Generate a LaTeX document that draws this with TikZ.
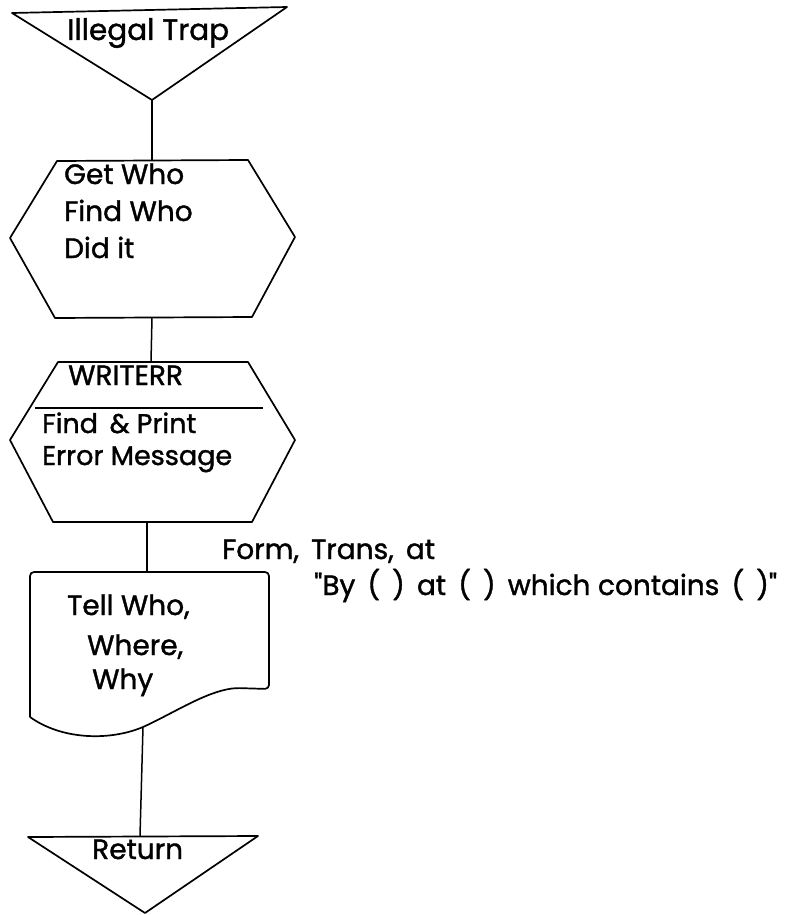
\documentclass[tikz,border=0pt]{standalone}
\usepackage{fontspec}
\setmainfont{Poppins}[FakeBold=1.3]
\begin{document}
\begin{tikzpicture}[x=1pt,y=-1pt,
  outline/.style={line width=1.7pt, line join=round},
  link/.style={line width=1.5pt},
  lbl/.style={inner sep=0pt, anchor=base west, align=left,
              font=\fontsize{28}{37}\selectfont}]
\useasboundingbox (0,0) rectangle (805,915);

% --- entry terminal: Illegal Trap
\coordinate (tA) at (12,13);
\coordinate (tB) at (287,7);
\coordinate (tApex) at (152,100);
\draw[outline] (tA) -- (tB) -- (tApex) -- cycle;
\node[lbl, font=\fontsize{29.5}{37}\selectfont] (trapText) at (67,40) {Illegal Trap};

% --- hexagon: Get Who
\coordinate (h1tl) at (57,161);
\coordinate (h1tr) at (248,160);
\coordinate (h1r)  at (295,237);
\coordinate (h1br) at (252,317);
\coordinate (h1bl) at (55,318);
\coordinate (h1l)  at (10,238);
\coordinate (h1top) at (152,160.5);
\coordinate (h1bot) at (152,317.5);
\draw[outline] (h1tl) -- (h1tr) -- (h1r) -- (h1br) -- (h1bl) -- (h1l) -- cycle;
% multi-line labels are anchored at the baseline of their last line
\node[lbl] (getText) at (64,258) {Get Who\\Find Who\\Did it};

% --- hexagon: WRITERR
\coordinate (h2tl) at (58,362);
\coordinate (h2tr) at (248,362);
\coordinate (h2r)  at (295,440);
\coordinate (h2br) at (252,522);
\coordinate (h2bl) at (53,522);
\coordinate (h2l)  at (10,440);
\coordinate (h2top) at (151,362);
\coordinate (h2bot) at (147,522);
\coordinate (divL) at (35,408);
\coordinate (divR) at (263,408);
\draw[outline] (h2tl) -- (h2tr) -- (h2r) -- (h2br) -- (h2bl) -- (h2l) -- cycle;
\draw[outline] (divL) -- (divR);
\node[lbl] (writerrText) at (68,385) {WRITERR};
\node[lbl, font=\fontsize{27}{32}\selectfont] (findText) at (42,465) {Find \,\& Print\\Error Message};

% --- document: Tell Who, Where, Why
\coordinate (dTop) at (147,572);
\coordinate (dBot) at (143,727);
\draw[outline, rounded corners=4pt]
  (30,717) -- (30,572) -- (269,572) -- (269,689) -- (236,688)
  [sharp corners] .. controls (205,692) and (172,714) .. (143,727)
  .. controls (110,741) and (62,740) .. (30,717);
\node[lbl] (tellText) at (67,615) {Tell Who,};
\node[lbl] (whereText) at (87,655) {Where,};
\node[lbl] (whyText) at (92,689) {Why};
\node[lbl] (formText) at (222,559) {Form, \,Trans, \,at};
\node[lbl] (byText) at (314,595)
  {\textquotedbl By \,(\hspace{12pt}) \,at \,(\hspace{12pt}) \,which contains \,(\hspace{12pt})\textquotedbl};

% --- exit terminal: Return
\coordinate (rA) at (28,837);
\coordinate (rB) at (258,836);
\coordinate (rApex) at (145,913);
\coordinate (rTop) at (140,836);
\draw[outline] (rA) -- (rB) -- (rApex) -- cycle;
\node[lbl] (returnText) at (92,859) {Return};

% --- flow lines
\draw[link] (tApex) -- (h1top);
\draw[link] (h1bot) -- (h2top);
\draw[link] (h2bot) -- (dTop);
\draw[link] (dBot) -- (rTop);
\end{tikzpicture}
\end{document}
